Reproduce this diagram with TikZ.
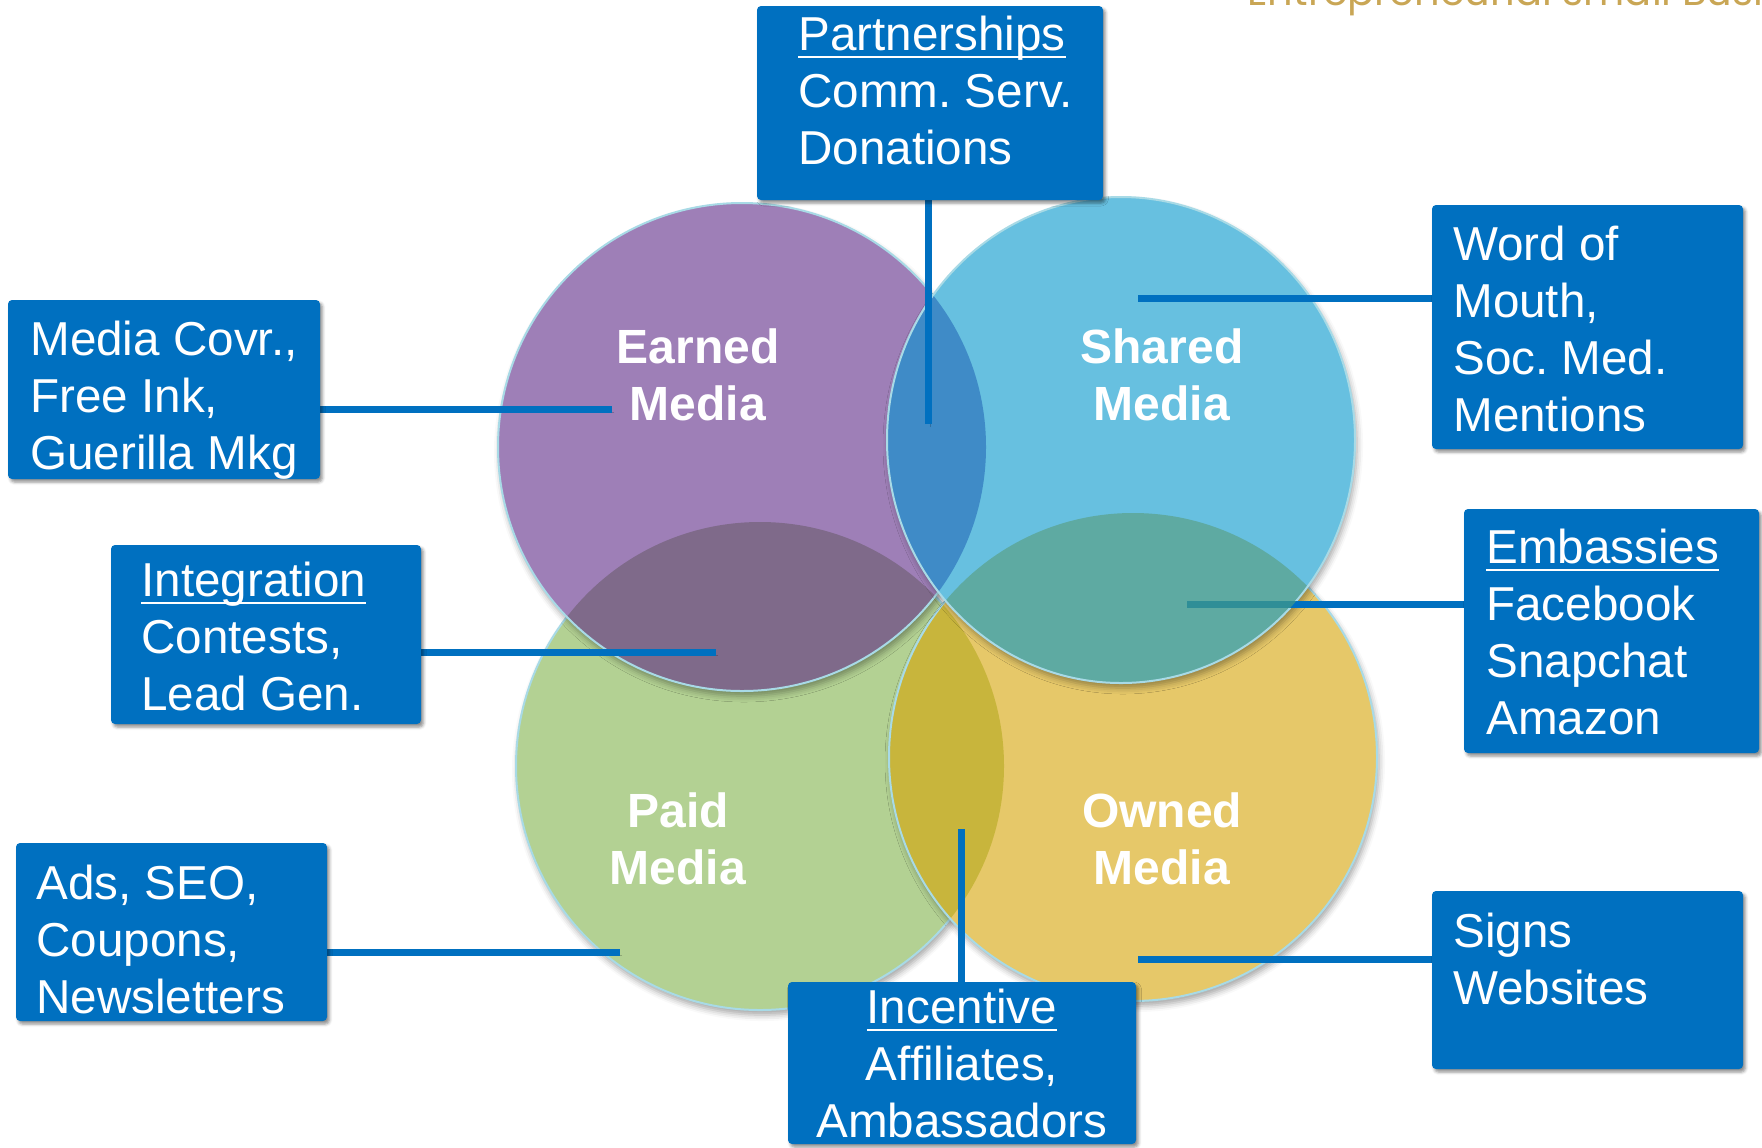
\documentclass[tikz,border=0pt]{standalone}
\usepackage{fontspec}
\setmainfont{Liberation Sans}
\newfontfamily\bannerfont{Poppins}
\usetikzlibrary{fit,shadows.blur}
\frenchspacing

\definecolor{boxblue}{RGB}{0,112,192}
\definecolor{earnedc}{RGB}{158,127,183}
\definecolor{sharedc}{RGB}{103,192,224}
\definecolor{paidc}{RGB}{179,209,147}
\definecolor{ownedc}{RGB}{230,200,105}
\definecolor{lensES}{RGB}{63,139,199}
\definecolor{lensEP}{RGB}{127,106,138}
\definecolor{lensSO}{RGB}{94,170,162}
\definecolor{lensPO}{RGB}{200,181,60}
\definecolor{rimc}{RGB}{168,218,230}
\definecolor{bannerc}{RGB}{201,166,85}
\definecolor{linkshade}{RGB}{47,142,151}

\newcommand{\undertitle}[1]{\setbox0=\hbox{#1}\rlap{\rule[-4pt]{\wd0}{1pt}}\box0}

\pgfdeclarelayer{front}
\pgfsetlayers{main,front}

\tikzset{
  mediabox/.style={fill=boxblue, rounded corners=2pt, inner sep=0pt,
    blur shadow={shadow xshift=1.2pt, shadow yshift=-1.5pt, shadow blur radius=1.5pt, shadow opacity=45}},
  boxtxt/.style={text=white, font=\fontsize{23.8}{28.5}\selectfont, align=left, inner sep=0pt},
  circtxt/.style={text=white, font=\fontsize{24}{28.5}\selectfont\bfseries, align=center, inner sep=0pt},
  link/.style={draw=boxblue, line width=3.5pt,
    preaction={draw=black, draw opacity=0.2, transform canvas={xshift=1pt, yshift=-1.5pt}}},
  rim/.style={draw=rimc, line width=1pt},
  disc/.style={blur shadow={shadow xshift=1pt, shadow yshift=-2.5pt, shadow blur radius=3pt, shadow opacity=35}},
}

\begin{document}
\begin{tikzpicture}[x=0.5pt,y=-0.5pt]
\useasboundingbox (0,0) rectangle (1762,1147);

\coordinate (cEarned) at (742,447);
\coordinate (cShared) at (1121,440);
\coordinate (cPaid) at (760,766);
\coordinate (cOwned) at (1133,757);

%Shape: Circle [Paid]
\fill[paidc, disc] (cPaid) circle [radius=122pt];
\draw[rim] (cPaid) circle [radius=122pt];
%Shape: Circle [Owned]
\fill[ownedc, disc] (cOwned) circle [radius=122pt];
\begin{scope}
  \clip (cPaid) circle [radius=122pt];
  \fill[lensPO] (cOwned) circle [radius=122pt];
\end{scope}
\draw[rim] (cOwned) circle [radius=122pt];
%Shape: Circle [Earned]
\fill[earnedc, disc] (cEarned) circle [radius=122pt];
\begin{scope}
  \clip (cPaid) circle [radius=122pt];
  \fill[lensEP] (cEarned) circle [radius=122pt];
\end{scope}
\draw[rim] (cEarned) circle [radius=122pt];
%Shape: Ellipse [Shared]
\fill[sharedc, disc] (cShared) ellipse [x radius=117pt, y radius=121.5pt];
\begin{scope}
  \clip (cEarned) circle [radius=122pt];
  \fill[lensES] (cShared) ellipse [x radius=117pt, y radius=121.5pt];
\end{scope}
\begin{scope}
  \clip (cOwned) circle [radius=122pt];
  \fill[lensSO] (cShared) ellipse [x radius=117pt, y radius=121.5pt];
\end{scope}
\draw[rim] (cShared) ellipse [x radius=117pt, y radius=121.5pt];

\begin{pgfonlayer}{front}
% Boxes
\node[mediabox, fit={(757,6) (1103,200)}] (bPart) {};
\node[mediabox, fit={(8,300) (320,479)}] (bMedia) {};
\node[mediabox, fit={(1432,205) (1743,449)}] (bWord) {};
\node[mediabox, fit={(111,545) (421,724)}] (bInteg) {};
\node[mediabox, fit={(1464,509) (1759,753)}] (bEmb) {};
\node[mediabox, fit={(16,843) (327,1021)}] (bAds) {};
\node[mediabox, fit={(788,982) (1136,1144)}] (bIncent) {};
\node[mediabox, fit={(1432,891) (1743,1069)}] (bSigns) {};

% Text Node
\node[boxtxt, anchor=base west] (tPart) at (798,164) {\undertitle{Partnerships}\\Comm. Serv.\\Donations};
% Text Node
\node[boxtxt, anchor=base west] (tMedia) at (30,469) {Media Covr.,\\Free Ink,\\Guerilla Mkg};
% Text Node
\node[boxtxt, anchor=base west] (tWord) at (1453,431) {Word of\\Mouth,\\Soc. Med.\\Mentions};
% Text Node
\node[boxtxt, anchor=base west] (tInteg) at (141,710) {\undertitle{Integration}\\Contests,\\Lead Gen.};
% Text Node
\node[boxtxt, anchor=base west] (tEmb) at (1486,734) {\undertitle{Embassies}\\Facebook\\Snapchat\\Amazon};
% Text Node
\node[boxtxt, anchor=base west] (tAds) at (36,1013) {Ads, SEO,\\Coupons,\\Newsletters};
% Text Node
\node[boxtxt, align=center, anchor=base] (tIncent) at (962,1137) {\undertitle{Incentive}\\Affiliates,\\Ambassadors};
% Text Node
\node[boxtxt, anchor=base west] (tSigns) at (1453,1004) {Signs\\Websites};

% Text Node
\node[circtxt, anchor=base] (lEarned) at (698,420) {Earned\\Media};
% Text Node
\node[circtxt, anchor=base] (lShared) at (1162,420) {Shared\\Media};
% Text Node
\node[circtxt, anchor=base] (lPaid) at (678,884) {Paid\\Media};
% Text Node
\node[circtxt, anchor=base] (lOwned) at (1162,884) {Owned\\Media};
\end{pgfonlayer}

%Straight Lines
\coordinate (pPart) at (928,424);
\coordinate (pMedia) at (612,409);
\coordinate (pWord) at (1138,298);
\coordinate (pInteg) at (716,652);
\coordinate (pEmb) at (1187,604);
\coordinate (pAds) at (620,952);
\coordinate (pIncent) at (961,829);
\coordinate (pSigns) at (1138,959);
\draw[link] (pPart) -- (pPart |- bPart.center);
\draw[link] (pMedia) -- (pMedia -| bMedia.center);
\draw[link] (pWord) -- (pWord -| bWord.center);
\draw[link] (pInteg) -- (pInteg -| bInteg.center);
\draw[link] (pEmb) -- (pEmb -| bEmb.center);
\draw[link] (pAds) -- (pAds -| bAds.center);
\draw[link] (pIncent) -- (pIncent |- bIncent.center);
\draw[link] (pSigns) -- (pSigns -| bSigns.center);
\begin{scope}
  \clip (cShared) ellipse [x radius=117pt, y radius=121.5pt];
  \draw[draw=linkshade, line width=3.5pt] (pEmb) -- (pEmb -| bEmb.center);
\end{scope}

% Text Node
\begin{scope}
  \clip (0,0) rectangle (1762,1147);
  \node[anchor=base west, inner sep=0pt, text=bannerc, font=\bannerfont\fontsize{20}{20}\selectfont] (banner) at (1247,5) {Entrepreneurial small Business};
\end{scope}

\end{tikzpicture}
\end{document}
